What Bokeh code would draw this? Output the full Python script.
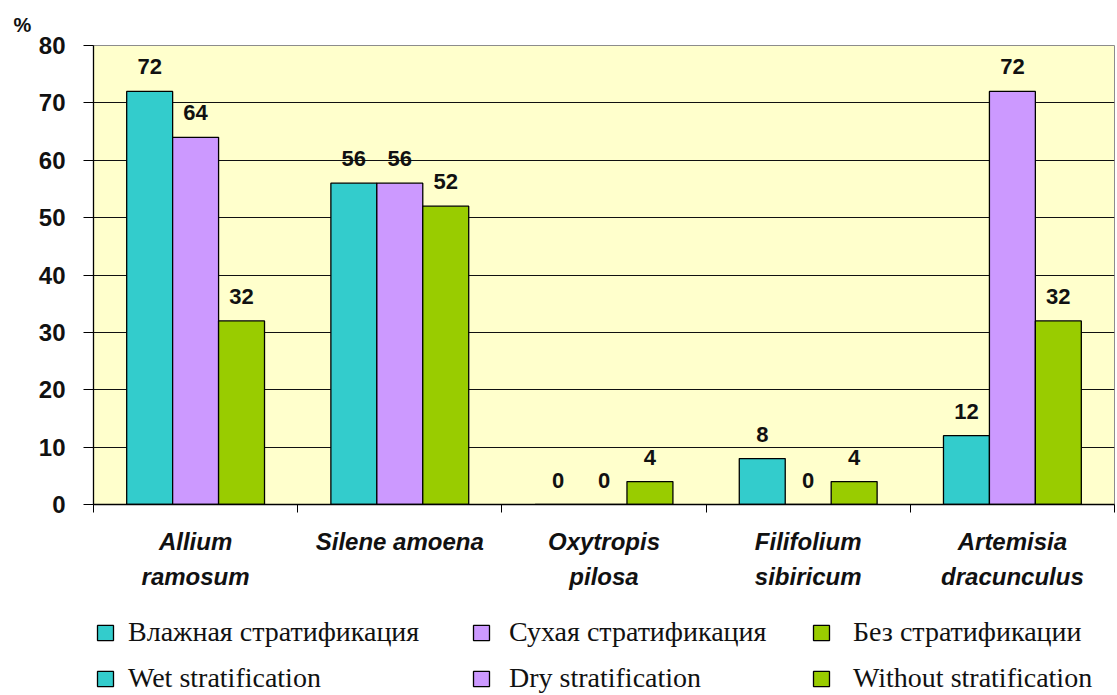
from bokeh.plotting import figure
from bokeh.models import (ColumnDataSource, Range1d, FixedTicker, LabelSet,
                          Legend, LegendItem)
from bokeh.core.properties import value
from bokeh.transform import dodge
from bokeh.layouts import column
from bokeh.embed import file_html
from bokeh.resources import INLINE

# ---- data ----
categories = ["Allium\nramosum", "Silene amoena", "Oxytropis\npilosa",
              "Filifolium\nsibiricum", "Artemisia\ndracunculus"]
wet = [72, 56, 0, 8, 12]
dry = [64, 56, 0, 0, 72]
without = [32, 52, 4, 4, 32]
series_ru = ["Влажная стратификация", "Сухая стратификация", "Без стратификации"]
series_en = ["Wet stratification", "Dry stratification", "Without stratification"]
colors = ["#33CCCC", "#CC99FF", "#99CC00"]
y_ticks = [0, 10, 20, 30, 40, 50, 60, 70, 80]

series = [wet, dry, without]
xs = [i + 0.5 for i in range(len(categories))]
data = {"x": xs}
for k, s in enumerate(series):
    data["v%d" % k] = s
    data["t%d" % k] = [str(v) for v in s]
source = ColumnDataSource(data)

p = figure(width=1115, height=595, output_backend="svg", toolbar_location=None,
           x_range=Range1d(0, len(categories)), y_range=Range1d(0, 80),
           min_border_left=93, min_border_right=1, min_border_top=45,
           min_border_bottom=91)
p.background_fill_color = "#FFFFCC"
p.border_fill_color = "white"
p.outline_line_color = "#8c8c8c"
p.outline_line_width = 1

p.title.text = "%"
p.title.align = "left"
p.title.offset = -80
p.title.text_font = "Liberation Sans"
p.title.text_font_style = "bold"
p.title.text_font_size = "20px"
p.title.text_color = "#111111"
p.title.standoff = 19

bw = 0.225
offsets = [-bw, 0.0, bw]
for k in range(3):
    p.vbar(x=dodge("x", offsets[k]), top="v%d" % k, width=bw, source=source,
           fill_color=colors[k], line_color="black", line_width=1.3)
    lbl = LabelSet(x=dodge("x", offsets[k]), y="v%d" % k, text="t%d" % k,
                   source=source, text_align="center", text_baseline="bottom",
                   y_offset=17, text_font=value("Liberation Sans"),
                   text_font_style="bold", text_font_size="22px",
                   text_color="#111111")
    p.add_layout(lbl)

# axes
p.xgrid.grid_line_color = None
p.ygrid.grid_line_color = "#111111"
p.ygrid.grid_line_width = 1
p.ygrid.ticker = FixedTicker(ticks=y_ticks)

p.yaxis.ticker = FixedTicker(ticks=y_ticks)
p.yaxis.axis_line_color = "black"
p.yaxis.axis_line_width = 1.3
p.yaxis.major_tick_line_color = "black"
p.yaxis.major_tick_out = 10
p.yaxis.major_tick_in = 0
p.yaxis.minor_tick_line_color = None
p.yaxis.major_label_text_font = "Liberation Sans"
p.yaxis.major_label_text_font_style = "bold"
p.yaxis.major_label_text_font_size = "24px"
p.yaxis.major_label_text_color = "#111111"
p.yaxis.major_label_standoff = 18

p.xaxis.ticker = FixedTicker(ticks=xs, minor_ticks=list(range(len(categories) + 1)))
p.xaxis.major_label_overrides = {x: c for x, c in zip(xs, categories)}
p.xaxis.axis_line_color = "black"
p.xaxis.axis_line_width = 1.3
p.xaxis.major_tick_line_color = None
p.xaxis.major_tick_out = 0
p.xaxis.major_tick_in = 0
p.xaxis.minor_tick_line_color = "black"
p.xaxis.minor_tick_out = 8
p.xaxis.minor_tick_in = 0
p.xaxis.major_label_text_font = "Liberation Sans"
p.xaxis.major_label_text_font_style = "bold italic"
p.xaxis.major_label_text_font_size = "24px"
p.xaxis.major_label_text_color = "#111111"
p.xaxis.major_label_text_line_height = 1.3
p.xaxis.major_label_standoff = 15

# ---- legend panel (separate figure below the chart) ----
lg = figure(width=1115, height=98, output_backend="svg", toolbar_location=None,
            x_range=Range1d(0, len(categories)), y_range=Range1d(0, 80),
            x_axis_type=None, y_axis_type=None, min_border=0)
lg.outline_line_color = None
lg.grid.visible = False
lg.background_fill_color = "white"
lg.border_fill_color = "white"

# key renderers: same styling as the bars, hidden (only their legend keys show)
key_renderers = []
for k in range(3):
    kr = lg.vbar(x=dodge("x", offsets[k]), top="v%d" % k, width=bw, source=source,
                 fill_color=colors[k], line_color="black", line_width=1.3,
                 visible=False)
    key_renderers.append(kr)

leg_x = [2, 378, 718]
standoffs = [13, 18, 22]
for k in range(3):
    leg = Legend(items=[LegendItem(label=series_ru[k], renderers=[key_renderers[k]]),
                        LegendItem(label=series_en[k], renderers=[key_renderers[k]])],
                 location=(leg_x[k], -1), orientation="vertical",
                 glyph_width=20, glyph_height=19, label_height=32, spacing=14,
                 label_standoff=standoffs[k], padding=0, margin=0,
                 border_line_color=None, background_fill_alpha=0,
                 inactive_fill_alpha=0,
                 label_text_font="Liberation Serif", label_text_font_size="28px",
                 label_text_color="#111111")
    lg.add_layout(leg)

open("out.html", "w").write(file_html(column(p, lg, spacing=0), INLINE))
